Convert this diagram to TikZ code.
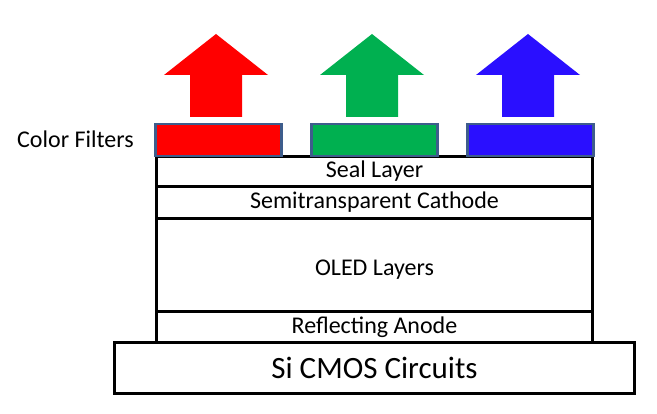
\documentclass[tikz,border=0pt]{standalone}
\usepackage{fontspec}
\setmainfont{Carlito}
\definecolor{cfred}{HTML}{FF0000}
\definecolor{cfgreen}{HTML}{00B050}
\definecolor{cfblue}{HTML}{2A0FFF}
\definecolor{cfborder}{HTML}{3E5D8C}
\tikzset{
  layer/.style={draw=black, line width=3pt, minimum width=436pt, inner sep=0pt, anchor=north west},
  filterbox/.style={draw=cfborder, line width=2.5pt, minimum width=126pt, minimum height=32pt, inner sep=0pt, anchor=north west},
  lbl/.style={inner sep=0pt, font=\fontsize{24}{24}\selectfont}
}
\newcommand{\uparrowshape}[2]{%
  \fill[#2] (#1,34) -- (#1+52,75) -- (#1+26,75) -- (#1+26,117) -- (#1-26,117) -- (#1-26,75) -- (#1-52,75) -- cycle;}
\begin{document}
\begin{tikzpicture}[x=1pt,y=-1pt]
\useasboundingbox (0,0) rectangle (657,414);
% stack
\node[layer, minimum height=30pt] (seal) at (155,155) {};
\node[lbl] at (seal.center) {Seal Layer};
\node[layer, minimum height=32pt] (cath) at (155,185) {};
\node[lbl] at (cath.center) {Semitransparent Cathode};
\node[layer, minimum height=93pt] (oled) at (155,217) {};
\node[lbl] at ([yshift=-5pt]oled.center) {OLED Layers};
\node[layer, minimum height=31pt] (anode) at (155,310) {};
\node[lbl] at (anode.center) {Reflecting Anode};
\node[draw=black, line width=3pt, minimum width=520pt, minimum height=51pt, inner sep=0pt, anchor=north west, fill=white] (cmos) at (113,341) {};
\node[inner sep=0pt, font=\fontsize{31}{31}\selectfont] at (cmos.center) {Si CMOS Circuits};
% filters
\node[filterbox, fill=cfred] (fr) at (154,123) {};
\node[filterbox, fill=cfgreen] (fg) at (310,123) {};
\node[filterbox, fill=cfblue] (fb) at (466,123) {};
\node[lbl, anchor=west] (cflabel) at (17,139) {Color Filters};
% arrows
\uparrowshape{216}{cfred}
\uparrowshape{372}{cfgreen}
\uparrowshape{528}{cfblue}
\end{tikzpicture}
\end{document}
